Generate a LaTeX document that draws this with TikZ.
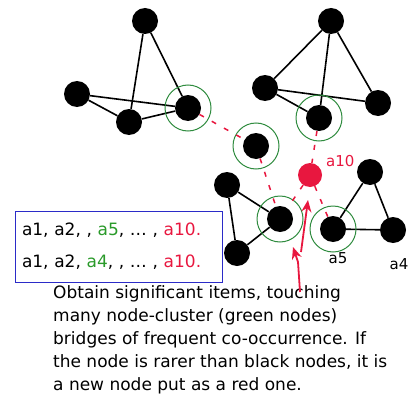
\documentclass[tikz,border=0pt]{standalone}
\usepackage{fontspec}
\usepackage{xcolor}
\usepackage{tikz}
\usetikzlibrary{arrows.meta,backgrounds}
\setmainfont{DejaVu Sans}
\definecolor{ringgreen}{HTML}{2E8B3E}
\definecolor{itemgreen}{HTML}{2A9A2A}
\definecolor{itemred}{HTML}{E8173F}
\definecolor{boxblue}{HTML}{2B2BC8}

\tikzset{
  blackdot/.style={circle, fill=black, inner sep=0pt, minimum size=26pt},
  reddot/.style={circle, fill=itemred, inner sep=0pt, minimum size=24pt},
  ring/.style={circle, draw=ringgreen, line width=1pt, inner sep=0pt, minimum size=46pt},
  link/.style={line width=1.6pt},
  bridge/.style={draw=itemred, line width=1.5pt, dash pattern=on 5pt off 9pt},
  pointer/.style={draw=itemred, line width=1.8pt, -{Stealth[length=12pt,width=10pt]}},
  itemlabel/.style={font=\fontsize{15}{15}\selectfont, inner sep=0pt}
}

\begin{document}
\begin{tikzpicture}[x=1pt, y=-1pt]
  \useasboundingbox (0,0) rectangle (411,401);

  % left cluster
  \node[blackdot] (a1) at (145,21) {};
  \node[blackdot] (a2) at (77,94) {};
  \node[blackdot] (a3) at (129,122) {};
  \node[blackdot] (g1) at (188,108) {};
  \node[ring] (g1ring) at (188,108) {};

  % right cluster
  \node[blackdot] (b1) at (331,21) {};
  \node[blackdot] (b2) at (265,88) {};
  \node[blackdot] (b3) at (378,103) {};
  \node[blackdot] (g3) at (319,118) {};
  \node[ring] (g3ring) at (319,118) {};

  % bridge node
  \node[blackdot] (g2) at (256,146) {};
  \node[ring] (g2ring) at (256,146) {};

  % new item
  \node[reddot] (a10) at (310,175) {};
  \node[itemlabel, text=itemred, anchor=west] at (326,161) {a10};

  % lower clusters
  \node[blackdot] (c1) at (227,185) {};
  \node[blackdot] (c3) at (237,253) {};
  \node[blackdot] (g4) at (280,219) {};
  \node[ring] (g4ring) at (280,219) {};
  \node[blackdot] (d1) at (370,172) {};
  \node[blackdot] (d2) at (393,230) {};
  \node[blackdot] (g5) at (333,229) {};
  \node[ring] (g5ring) at (333,229) {};
  \node[itemlabel] at (338,258) {a5};
  \node[itemlabel] at (399,264) {a4};

  \begin{scope}[on background layer]
    \draw[link] (a1) -- (a3);
    \draw[link] (a1) -- (g1);
    \draw[link] (a2) -- (a3);
    \draw[link] (a2) -- (g1);
    \draw[link] (a3) -- (g1);
    \draw[link] (b1) -- (b2);
    \draw[link] (b1) -- (g3);
    \draw[link] (b1) -- (b3);
    \draw[link] (b2) -- (b3);
    \draw[link] (b2) -- (g3);
    \draw[link] (c1) -- (g4);
    \draw[link] (c1) -- (c3);
    \draw[link] (c3) -- (g4);
    \draw[link] (d1) -- (g5);
    \draw[link] (d1) -- (d2);
    \draw[link] (g5) -- (d2);
  \end{scope}

  \draw[bridge] (g1) -- (g2);
  \draw[bridge] (g2) -- (g4);
  \draw[bridge] (g3) -- (a10);
  \draw[bridge] (a10) -- (g4);
  \draw[bridge] (a10) -- (g5);

  \node[
    draw=boxblue,
    line width=1pt,
    minimum width=207pt,
    minimum height=71pt,
    inner xsep=7pt,
    text width=193pt,
    align=left,
    font=\fontsize{17}{32}\selectfont
  ] (itembox) at (118.5,246.5) {%
    a1, a2, , \textcolor{itemgreen}{a5}, … , \textcolor{itemred}{a10.}\\
    a1, a2, \textcolor{itemgreen}{a4}, , … , \textcolor{itemred}{a10.}%
  };

  \node[
    anchor=north west,
    inner sep=0pt,
    align=left,
    font=\fontsize{17}{23}\selectfont
  ] (note) at (53,285) {%
    Obtain significant items, touching\\
    many node-cluster (green nodes)\\
    bridges of frequent co-occurrence. If\\
    the node is rarer than black nodes, it is\\
    a new node put as a red one.%
  };

  \coordinate (tailA) at (300,292);
  \coordinate (kinkA) at (298,262);
  \coordinate (headA) at (293,247);
  \coordinate (tailB) at (301,252);
  \coordinate (headB) at (308,200);
  \draw[pointer] (tailA) -- (kinkA) -- (headA);
  \draw[pointer] (tailB) -- (headB);
\end{tikzpicture}
\end{document}
